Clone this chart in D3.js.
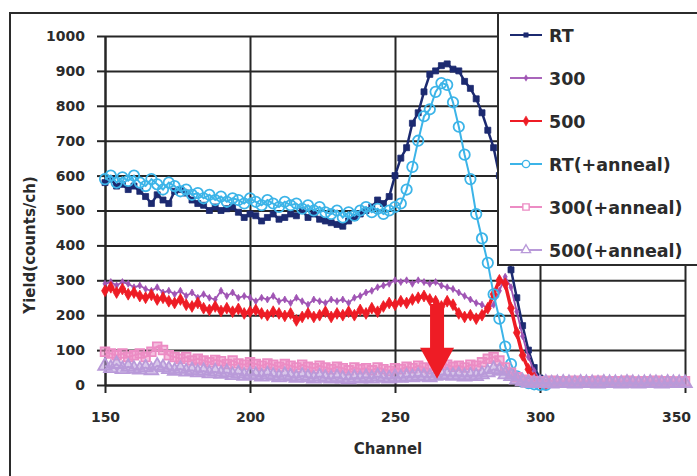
<html>
<head>
  <title>Yield vs Channel</title>
  <script src="https://cdn.jsdelivr.net/npm/d3@7"></script>
  <style>
    body { margin: 0; background: #fff; }
    text { font-family: "DejaVu Sans", sans-serif; font-weight: bold; fill: #2b2b2b; }
  </style>
</head>
<body>
  <div id="vis"></div>

  <script type="text/javascript">

    // Channel numbers: spectra read every 2 channels starting at 150
    var chStart = 150;
    var chStep = 2;

    var xTicks = [150, 200, 250, 300, 350];
    var yTicks = [0, 100, 200, 300, 400, 500, 600, 700, 800, 900, 1000];

    // Values (counts/ch)
    var rt = [
      580, 590, 570, 575, 560, 570, 555, 540, 520, 545,
      530, 520, 555, 560, 550, 530, 520, 515, 500, 510,
      500, 505, 510, 495, 480, 490, 485, 470, 480, 490,
      475, 480, 490, 485, 500, 480, 490, 475, 470, 465,
      460, 455, 470, 480, 490, 500, 510, 530, 520, 540,
      600, 650, 680, 750, 780, 840, 890, 900, 915, 920,
      905, 900, 870, 850, 820, 780, 730, 680, 600, 460,
      330, 250, 170, 100, 50, 20, 5
    ];
    var t300 = [
      290, 295, 285, 295, 290, 280, 285, 275, 270, 280,
      265, 270, 260, 270, 255, 265, 250, 260, 250, 245,
      270, 255, 265, 250, 255, 250, 240, 250, 245, 255,
      240, 245, 235, 250, 240, 230, 245, 240, 235, 245,
      240, 245, 235, 250, 255, 265, 270, 280, 285, 290,
      300, 295, 300, 290, 300, 295, 290, 295, 285, 280,
      275, 265, 255, 245, 235, 230, 220, 230, 270, 310,
      280, 210, 140, 80, 40, 15, 5
    ];
    var t500 = [
      270, 280, 265, 275, 260, 265, 255, 250, 258, 245,
      250, 240, 235, 245, 230, 225, 235, 220, 215, 225,
      212, 220, 210, 218, 205, 210, 215, 205, 200, 210,
      205, 198, 205, 185, 195, 205, 195, 200, 210, 195,
      205, 200, 210, 200, 215, 205, 220, 210, 225, 235,
      230, 240, 235, 245, 250, 255, 245, 240, 225, 240,
      230, 205, 195, 200, 190, 200, 220, 260, 300, 290,
      220, 150, 85, 45, 20, 5, 0
    ];
    var rtAnneal = [
      590, 600, 580, 595, 585, 600, 580, 570, 590, 575,
      560, 580, 570, 555, 560, 545, 550, 535, 545, 530,
      540, 525, 535, 530, 520, 535, 525, 515, 530, 520,
      510, 525, 515, 520, 505, 515, 500, 510, 495, 490,
      500, 480, 495, 485, 500, 510, 495, 505, 490, 500,
      510, 520, 560, 625, 700, 770, 790, 840, 865, 860,
      810, 740, 660, 590, 490, 420, 350, 260, 190, 110,
      60, 25, 10, 5, 2, 0, 0
    ];
    var t300Anneal = [
      95, 90, 85, 90, 80, 85, 90, 80, 95, 110,
      100, 85, 80, 75, 80, 70, 75, 70, 65, 72,
      68, 60, 70, 62, 58, 65, 60, 55, 62, 58,
      52, 60, 55, 50, 58, 52, 48, 55, 50, 45,
      52, 48, 42, 50, 45, 48, 42, 50, 45, 40,
      48, 45, 52, 48, 55, 50, 45, 55, 62, 58,
      52, 55, 50, 58, 55, 65, 75, 80, 70, 50,
      35, 22, 15, 12, 10, 10, 10, 12, 9, 11,
      10, 12, 9, 11, 10, 12, 10, 9, 11, 10,
      12, 10, 9, 11, 10, 12, 10, 11, 9, 10,
      11
    ];
    var t500Anneal = [
      55, 48, 60, 45, 52, 46, 44, 50, 42, 55,
      50, 45, 40, 46, 38, 42, 36, 40, 33, 38,
      32, 36, 28, 33, 26, 30, 28, 24, 30, 26,
      22, 28, 24, 20, 26, 22, 18, 24, 20, 18,
      22, 18, 16, 20, 18, 22, 18, 24, 20, 18,
      22, 20, 24, 22, 26, 24, 22, 26, 30, 28,
      26, 28, 24, 27, 25, 30, 36, 45, 40, 30,
      25, 15, 10, 6, 5, 5, 6, 4, 5, 6,
      5, 4, 6, 5, 5, 4, 6, 5, 5, 4,
      6, 5, 4, 5, 6, 5, 4, 6, 5, 5,
      5
    ];

    var seriesNames = ['RT', '300', '500', 'RT(+anneal)', '300(+anneal)', '500(+anneal)'];
    var seriesValues = [rt, t300, t500, rtAnneal, t300Anneal, t500Anneal];

    // Red arrow annotation (channel, from, to)
    var arrowChannel = 264.5;
    var arrowFrom = 232;
    var arrowTo = 18;

    // Styles for each series, same order as seriesNames
    // mark/legend sizes differ: the plotted marks are packed tight and blur into bands
    var styles = [
      {color: '#1c2a70', width: 2.5, symbol: d3.symbolSquare,   size: 36, legendSize: 20, filled: true},
      {color: '#a054b4', width: 1.8, symbol: d3.symbolDiamond,  size: 14, legendSize: 12, filled: true},
      {color: '#ee1c25', width: 3.5, symbol: d3.symbolDiamond,  size: 40, legendSize: 30, filled: true},
      {color: '#3cb4e8', width: 2,   symbol: d3.symbolCircle,   size: 85, legendSize: 42, filled: false},
      {color: '#ec8cc4', width: 2,   symbol: d3.symbolSquare,   size: 75, legendSize: 40, filled: false},
      {color: '#b99ad9', width: 2,   symbol: d3.symbolTriangle, size: 80, legendSize: 36, filled: false}
    ];

    var W = 697, H = 476;

    var x = d3.scaleLinear().domain([150, 350]).range([105, 685]);
    var y = d3.scaleLinear().domain([0, 1000]).range([385, 36]);

    var svg = d3.select('#vis')
                .append('svg')
                  .attr('width', W)
                  .attr('height', H);

    // Outer frame (cut off at right and bottom)
    svg.append('path')
         .attr('d', 'M10,' + H + 'V13H' + W)
         .attr('fill', 'none')
         .attr('stroke', '#2b2b2b')
         .attr('stroke-width', 2);

    // Gridlines
    svg.append('g')
         .attr('class', 'grid-y')
         .attr('transform', 'translate(' + x(150) + ',0)')
         .call(d3.axisLeft(y).tickValues(yTicks).tickSize(-(x(350) - x(150))).tickFormat(''));

    svg.append('g')
         .attr('class', 'grid-x')
         .attr('transform', 'translate(0,' + y(0) + ')')
         .call(d3.axisBottom(x).tickValues(xTicks).tickSize(-(y(0) - y(1000))).tickFormat(''));

    svg.selectAll('.grid-y line, .grid-x line')
         .attr('stroke', '#262626')
         .attr('stroke-width', 2);
    svg.selectAll('.grid-y .domain, .grid-x .domain').remove();

    // Axes with outer ticks and labels
    svg.append('g')
         .attr('class', 'y-axis')
         .attr('transform', 'translate(' + x(150) + ',0)')
         .call(d3.axisLeft(y).tickValues(yTicks).tickFormat(d3.format('d'))
                 .tickSize(8).tickSizeOuter(0).tickPadding(12));

    svg.append('g')
         .attr('class', 'x-axis')
         .attr('transform', 'translate(0,' + y(0) + ')')
         .call(d3.axisBottom(x).tickValues(xTicks).tickFormat(d3.format('d'))
                 .tickSize(8).tickSizeOuter(0).tickPadding(19));

    svg.selectAll('.y-axis line, .x-axis line, .y-axis .domain, .x-axis .domain')
         .attr('stroke', '#262626')
         .attr('stroke-width', 2);
    svg.selectAll('.y-axis text, .x-axis text')
         .style('font-size', '14px')
         .style('font-family', '"DejaVu Sans", sans-serif')
         .style('font-weight', 'bold')
         .attr('fill', '#2b2b2b');

    // last x label sits a little inside the cut-off edge
    svg.selectAll('.x-axis .tick text')
         .filter(function(d) { return d === 350; })
         .attr('dx', -9);

    // Series: line + markers
    var line = d3.line()
                 .x(function(d, i) { return x(chStart + i * chStep); })
                 .y(function(d) { return y(d); });

    seriesValues.forEach(function(vals, k) {
      var st = styles[k];
      var g = svg.append('g').attr('class', 'series series-' + k);

      g.append('path')
         .attr('d', line(vals))
         .attr('fill', 'none')
         .attr('stroke', st.color)
         .attr('stroke-width', st.width);

      g.selectAll('path.mark')
         .data(vals)
         .enter().append('path')
           .attr('class', 'mark')
           .attr('transform', function(d, i) { return 'translate(' + x(chStart + i * chStep) + ',' + y(d) + ')'; })
           .attr('d', d3.symbol().type(st.symbol).size(st.size)())
           .attr('fill', st.filled ? st.color : (k >= 4 ? st.color : 'none'))
           .attr('fill-opacity', st.filled ? 1 : 0.55)
           .attr('stroke', st.color)
           .attr('stroke-width', st.filled ? 0.8 : 1.8);
    });

    // Red arrow
    var ax = x(arrowChannel), ay0 = y(arrowFrom), ay1 = y(arrowTo);
    var headLen = 31, shaftHalf = 7, headHalf = 17;
    svg.append('path')
         .attr('d', 'M' + (ax - shaftHalf) + ',' + ay0 +
                    'H' + (ax + shaftHalf) +
                    'V' + (ay1 - headLen) +
                    'H' + (ax + headHalf) +
                    'L' + ax + ',' + ay1 +
                    'L' + (ax - headHalf) + ',' + (ay1 - headLen) +
                    'H' + (ax - shaftHalf) + 'Z')
         .attr('fill', '#ee1c25');

    // Legend box (covers the top right of the plot)
    var legend = svg.append('g').attr('class', 'legend');
    legend.append('rect')
            .attr('x', 498)
            .attr('y', 13)
            .attr('width', W - 498 + 10)
            .attr('height', 265 - 13)
            .attr('fill', '#fff')
            .attr('stroke', '#2b2b2b')
            .attr('stroke-width', 2);

    seriesNames.forEach(function(name, k) {
      var st = styles[k];
      var ly = 35 + k * 43;
      legend.append('line')
              .attr('x1', 510).attr('x2', 542)
              .attr('y1', ly).attr('y2', ly)
              .attr('stroke', st.color)
              .attr('stroke-width', Math.min(st.width, 2));
      legend.append('path')
              .attr('transform', 'translate(526,' + ly + ')')
              .attr('d', d3.symbol().type(st.symbol).size(st.legendSize)())
              .attr('fill', st.filled ? st.color : '#fff')
              .attr('stroke', st.color)
              .attr('stroke-width', st.filled ? 0.5 : 1.4);
      legend.append('text')
              .attr('x', 549)
              .attr('y', ly + 6.5)
              .style('font-size', '17.5px')
              .text(name);
    });

    // Axis titles
    svg.append('text')
         .attr('x', 388)
         .attr('y', 454)
         .attr('text-anchor', 'middle')
         .style('font-size', '15px')
         .text('Channel');

    svg.append('text')
         .attr('transform', 'translate(35,245) rotate(-90)')
         .attr('text-anchor', 'middle')
         .style('font-size', '15px')
         .text('Yield(counts/ch)');

  </script>
</body>
</html>
